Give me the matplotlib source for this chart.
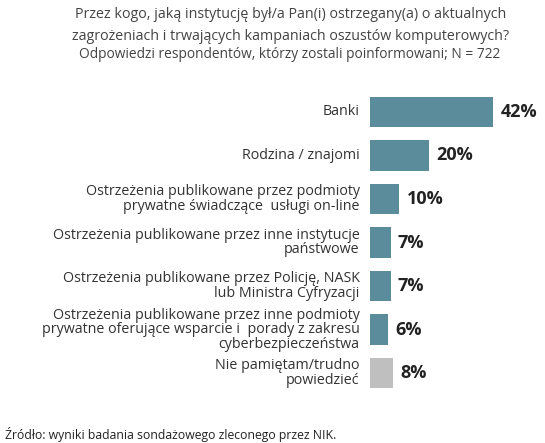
import matplotlib.pyplot as plt

plt.rcParams['font.family'] = ['Open Sans', 'DejaVu Sans']

labels = ['Banki', 'Rodzina / znajomi',
          'Ostrzeżenia publikowane przez podmioty\nprywatne świadczące  usługi on-line',
          'Ostrzeżenia publikowane przez inne instytucje\npaństwowe',
          'Ostrzeżenia publikowane przez Policję, NASK\nlub Ministra Cyfryzacji',
          'Ostrzeżenia publikowane przez inne podmioty\nprywatne oferujące wsparcie i  porady z zakresu\ncyberbezpieczeństwa',
          'Nie pamiętam/trudno\npowiedzieć']
values = [42, 20, 10, 7, 7, 6, 8]
colors = ['#5b8c9c'] * 6 + ['#bfbfbf']

W, H = 545, 443
fig = plt.figure(figsize=(W / 100, H / 100), dpi=100)
ax = fig.add_axes([370 / W, (H - 395) / H, 175 / W, 305 / H])

ypos = list(range(len(values)))
ax.barh(ypos, values, height=0.7, color=colors)
for y, v in zip(ypos, values):
    ax.text(v + 2.5, y, f'{v}%', va='center', ha='left', fontsize=13, fontweight='bold', color='#222222')
for y, lab in zip(ypos, labels):
    ax.text(-3.5, y, lab, va='center', ha='right', fontsize=10.3, color='#333333', linespacing=0.95)

ax.set_xlim(0, 59.7)
ax.set_ylim(6.5, -0.5)
ax.axis('off')

fig.text(291 / W, 1 - 15 / H, 'Przez kogo, jaką instytucję był/a Pan(i) ostrzegany(a) o aktualnych',
         ha='center', va='center', fontsize=10.3, color='#444444')
fig.text(291 / W, 1 - 36 / H, 'zagrożeniach i trwających kampaniach oszustów komputerowych?',
         ha='center', va='center', fontsize=10.3, color='#444444')
fig.text(290 / W, 1 - 55 / H, 'Odpowiedzi respondentów, którzy zostali poinformowani; N = 722',
         ha='center', va='center', fontsize=9.9, color='#444444')
fig.text(5 / W, 1 - 434 / H, 'Źródło: wyniki badania sondażowego zleconego przez NIK.',
         ha='left', va='center', fontsize=8.8, color='#222222')

fig.savefig('out.png', dpi=100)
